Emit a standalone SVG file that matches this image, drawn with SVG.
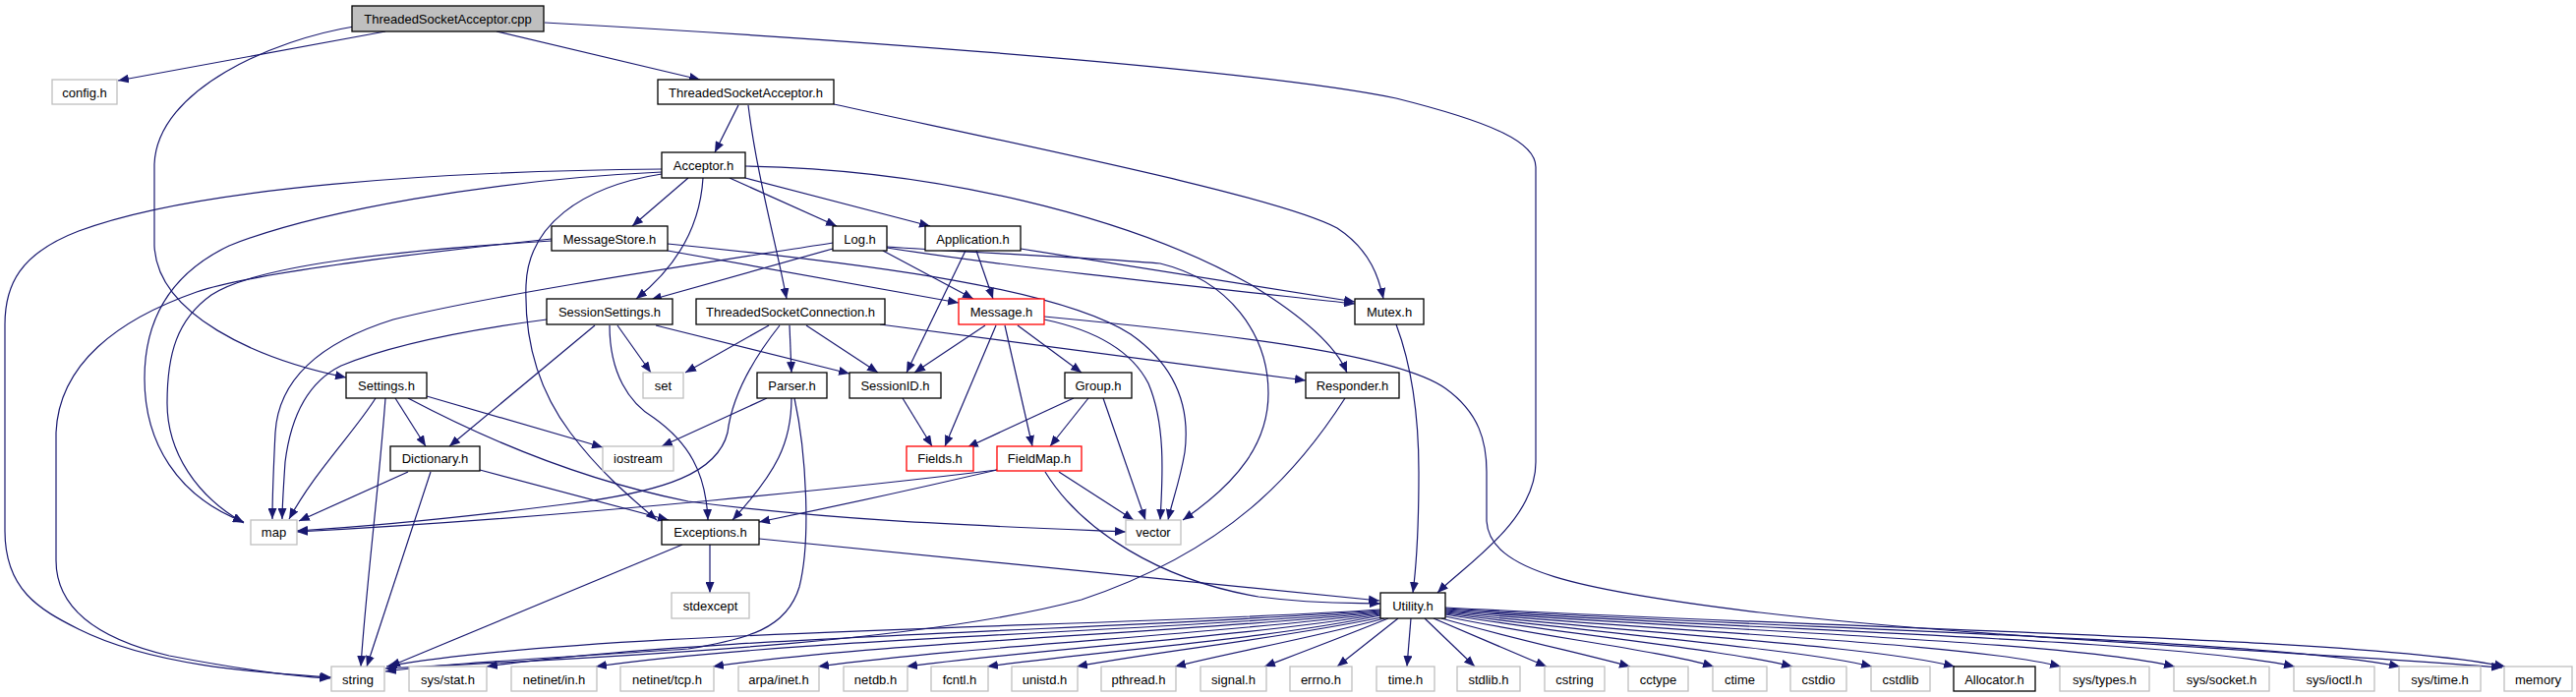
<svg xmlns="http://www.w3.org/2000/svg" width="2620" height="709" viewBox="0 0 2620 709">
<defs>
<marker id="a" markerUnits="userSpaceOnUse" markerWidth="11" markerHeight="9" viewBox="0 0 11 9" refX="11" refY="4.5" orient="auto"><path d="M0,0 L11,4.5 L0,9 z" fill="#191970"/></marker>
<style>
.e{fill:none;stroke:#191970;stroke-width:1.2;marker-end:url(#a)}
.b{fill:#fff;stroke:#000;stroke-width:1.3}
.g{fill:#fff;stroke:#bfbfbf;stroke-width:1.3}
.r{fill:#fff;stroke:#ff0000;stroke-width:1.3}
.m{fill:#bfbfbf;stroke:#000;stroke-width:1.3}
text{font-family:"Liberation Sans",Arial,sans-serif;font-size:13px;text-anchor:middle;fill:#000}
</style>
</defs>
<rect width="2620" height="709" fill="#fff"/>
<g id="connectors">
<path class="e" d="M392,32 L120,82"/>
<path class="e" d="M505,32 L712,81"/>
<path class="e" d="M360,27 C280,40 160,90 157,167 L157,250 C160,320 260,365 352,384"/>
<path class="e" d="M554,23 C950,45 1300,75 1420,100 C1520,125 1562,145 1562,170 L1562,470 C1562,530 1490,575 1462,603"/>
<path class="e" d="M751,107 L727,155"/>
<path class="e" d="M761,107 C770,180 790,250 800,304"/>
<path class="e" d="M848,106 C1050,150 1300,200 1360,232 C1395,255 1403,285 1407,304"/>
<path class="e" d="M700,181 L643,230"/>
<path class="e" d="M742,181 L851,230"/>
<path class="e" d="M758,181 L946,230"/>
<path class="e" d="M715,181 C712,230 690,270 647,304"/>
<path class="e" d="M673,177 C590,190 537,230 535,290 C533,350 550,400 580,440 C610,480 640,505 668,529"/>
<path class="e" d="M673,175 C500,183 320,215 233,250 C170,280 147,330 147,385 C147,450 180,505 248,531"/>
<path class="e" d="M673,172 C450,174 200,190 80,235 C20,258 5,290 5,330 L5,540 C5,600 40,620 80,640 C160,680 280,685 337,689"/>
<path class="e" d="M758,169 C950,172 1150,220 1273,290 C1330,325 1360,355 1370,379"/>
<path class="e" d="M679,255 L975,308"/>
<path class="e" d="M679,248 C900,270 1080,295 1150,340 C1200,375 1210,420 1205,460 C1200,490 1192,510 1188,529"/>
<path class="e" d="M561,245 C400,255 260,270 215,300 C180,325 170,360 170,410 C170,460 200,505 248,532"/>
<path class="e" d="M561,243 C400,260 250,280 200,297 C120,325 60,370 57,440 L57,570 C57,620 100,650 172,667 C240,680 300,688 336,690"/>
<path class="e" d="M847,253 L662,305"/>
<path class="e" d="M898,255 L990,304"/>
<path class="e" d="M847,247 C700,270 500,300 400,325 C320,350 283,390 280,440 C278,480 277,510 277,528"/>
<path class="e" d="M902,252 C1050,275 1250,295 1378,309"/>
<path class="e" d="M902,251 C1000,258 1120,262 1180,268 C1250,285 1290,340 1290,400 C1290,450 1260,490 1203,529"/>
<path class="e" d="M993,255 L1010,304"/>
<path class="e" d="M982,255 L922,379"/>
<path class="e" d="M1038,253 L1378,307"/>
<path class="e" d="M605,331 L457,454"/>
<path class="e" d="M628,331 L662,379"/>
<path class="e" d="M667,331 L864,380"/>
<path class="e" d="M620,331 C620,380 640,410 665,425 C700,450 718,480 720,529"/>
<path class="e" d="M556,325 C480,335 400,350 347,372 C310,390 295,430 290,470 C288,500 287,515 287,528"/>
<path class="e" d="M782,331 L697,379"/>
<path class="e" d="M803,331 L805,379"/>
<path class="e" d="M820,331 L893,379"/>
<path class="e" d="M793,331 C770,360 745,400 740,440 C730,480 680,500 574,513 C480,525 380,535 302,540"/>
<path class="e" d="M895,330 L1328,387"/>
<path class="e" d="M1002,331 L930,379"/>
<path class="e" d="M1013,331 L961,454"/>
<path class="e" d="M1022,331 L1050,454"/>
<path class="e" d="M1035,331 L1100,379"/>
<path class="e" d="M1062,325 C1110,335 1150,355 1168,390 C1185,430 1183,480 1180,529"/>
<path class="e" d="M1062,322 C1250,340 1420,360 1470,395 C1505,420 1512,450 1512,480 L1512,530 C1515,580 1600,600 1790,623 C2000,648 2300,660 2545,679"/>
<path class="e" d="M402,405 L433,454"/>
<path class="e" d="M382,405 C360,440 320,480 294,528"/>
<path class="e" d="M392,405 C385,500 372,600 367,678"/>
<path class="e" d="M434,403 L613,455"/>
<path class="e" d="M415,405 C500,450 600,490 700,510 C850,530 1000,535 1145,541"/>
<path class="e" d="M415,480 L304,530"/>
<path class="e" d="M438,480 L373,678"/>
<path class="e" d="M488,478 L680,529"/>
<path class="e" d="M780,405 L673,454"/>
<path class="e" d="M805,405 C805,450 790,480 745,529"/>
<path class="e" d="M808,405 C820,460 825,550 813,597 C800,640 760,650 700,660 C550,670 450,675 392,683"/>
<path class="e" d="M1092,405 L984,455"/>
<path class="e" d="M1107,405 L1068,454"/>
<path class="e" d="M1122,405 L1165,529"/>
<path class="e" d="M1077,480 L1153,529"/>
<path class="e" d="M1014,478 C900,492 600,525 302,541"/>
<path class="e" d="M1014,478 C920,500 850,515 772,531"/>
<path class="e" d="M1063,480 C1100,540 1180,590 1280,607 C1340,615 1380,613 1404,614"/>
<path class="e" d="M918,405 L948,454"/>
<path class="e" d="M1368,405 C1320,480 1250,560 1100,610 C950,650 700,665 392,680"/>
<path class="e" d="M694,554 L396,678"/>
<path class="e" d="M722,554 L722,603"/>
<path class="e" d="M772,548 L1403,611"/>
<path class="e" d="M1420,330 C1435,370 1443,420 1443,480 C1443,540 1440,580 1437,603"/>
<path class="e" d="M1404,620 C1150,638 600,640 393,678"/>
<path class="e" d="M1404,621 C1150,640 700,648 495,678"/>
<path class="e" d="M1404,622 C1180,642 800,650 606,678"/>
<path class="e" d="M1404,623 C1200,644 900,653 725,678"/>
<path class="e" d="M1404,624 C1230,646 1000,656 832,678"/>
<path class="e" d="M1404,625 C1260,648 1060,660 922,678"/>
<path class="e" d="M1404,626 C1290,650 1120,662 1004,678"/>
<path class="e" d="M1405,628 C1300,650 1180,662 1095,678"/>
<path class="e" d="M1408,629 C1330,650 1250,664 1195,678"/>
<path class="e" d="M1412,629 C1360,650 1320,665 1286,678"/>
<path class="e" d="M1422,629 L1360,678"/>
<path class="e" d="M1435,629 L1431,678"/>
<path class="e" d="M1449,629 L1500,678"/>
<path class="e" d="M1458,629 L1573,678"/>
<path class="e" d="M1466,629 C1540,650 1610,665 1658,678"/>
<path class="e" d="M1470,627 C1570,648 1690,662 1743,678"/>
<path class="e" d="M1470,625 C1600,646 1760,662 1823,678"/>
<path class="e" d="M1470,624 C1630,645 1830,660 1904,678"/>
<path class="e" d="M1470,623 C1660,644 1900,656 1988,678"/>
<path class="e" d="M1470,622 C1700,643 2000,654 2096,678"/>
<path class="e" d="M1470,621 C1750,642 2100,652 2212,678"/>
<path class="e" d="M1470,620 C1800,642 2200,650 2334,678"/>
<path class="e" d="M1470,619 C1850,641 2300,650 2441,678"/>
<path class="e" d="M1470,618 C1900,641 2400,648 2548,678"/>
</g>
<g id="n_cpp"><rect class="m" x="358" y="6" width="195" height="26"/><text x="455.5" y="23.5">ThreadedSocketAcceptor.cpp</text></g>
<g id="n_config"><rect class="g" x="53" y="81" width="66" height="25"/><text x="86" y="98.5">config.h</text></g>
<g id="n_tsah"><rect class="b" x="669" y="81" width="179" height="25"/><text x="758.5" y="98.5">ThreadedSocketAcceptor.h</text></g>
<g id="n_acceptor"><rect class="b" x="673" y="155" width="85" height="26"/><text x="715.5" y="172.5">Acceptor.h</text></g>
<g id="n_messagestore"><rect class="b" x="561" y="230" width="118" height="25"/><text x="620" y="247.5">MessageStore.h</text></g>
<g id="n_log"><rect class="b" x="847" y="230" width="55" height="25"/><text x="874.5" y="247.5">Log.h</text></g>
<g id="n_application"><rect class="b" x="941" y="230" width="97" height="25"/><text x="989.5" y="247.5">Application.h</text></g>
<g id="n_sessionsettings"><rect class="b" x="556" y="304" width="128" height="26"/><text x="620" y="321.5">SessionSettings.h</text></g>
<g id="n_tsc"><rect class="b" x="708" y="304" width="192" height="26"/><text x="804" y="321.5">ThreadedSocketConnection.h</text></g>
<g id="n_message"><rect class="r" x="975" y="304" width="87" height="26"/><text x="1018.5" y="321.5">Message.h</text></g>
<g id="n_mutex"><rect class="b" x="1378" y="304" width="70" height="26"/><text x="1413" y="321.5">Mutex.h</text></g>
<g id="n_settings"><rect class="b" x="352" y="379" width="82" height="26"/><text x="393" y="396.5">Settings.h</text></g>
<g id="n_set"><rect class="g" x="654" y="379" width="41" height="26"/><text x="674.5" y="396.5">set</text></g>
<g id="n_parser"><rect class="b" x="770" y="379" width="71" height="26"/><text x="805.5" y="396.5">Parser.h</text></g>
<g id="n_sessionid"><rect class="b" x="864" y="379" width="93" height="26"/><text x="910.5" y="396.5">SessionID.h</text></g>
<g id="n_group"><rect class="b" x="1083" y="379" width="68" height="26"/><text x="1117" y="396.5">Group.h</text></g>
<g id="n_responder"><rect class="b" x="1328" y="379" width="95" height="26"/><text x="1375.5" y="396.5">Responder.h</text></g>
<g id="n_dictionary"><rect class="b" x="397" y="454" width="91" height="25"/><text x="442.5" y="471">Dictionary.h</text></g>
<g id="n_iostream"><rect class="g" x="613" y="454" width="72" height="25"/><text x="649" y="471">iostream</text></g>
<g id="n_fields"><rect class="r" x="922" y="454" width="68" height="25"/><text x="956" y="471">Fields.h</text></g>
<g id="n_fieldmap"><rect class="r" x="1014" y="454" width="86" height="25"/><text x="1057" y="471">FieldMap.h</text></g>
<g id="n_map"><rect class="g" x="255" y="529" width="47" height="25"/><text x="278.5" y="546">map</text></g>
<g id="n_exceptions"><rect class="b" x="673" y="529" width="99" height="25"/><text x="722.5" y="546">Exceptions.h</text></g>
<g id="n_vector"><rect class="g" x="1145" y="529" width="56" height="25"/><text x="1173" y="546">vector</text></g>
<g id="n_stdexcept"><rect class="g" x="683" y="603" width="79" height="26"/><text x="722.5" y="620.5">stdexcept</text></g>
<g id="n_utility"><rect class="b" x="1404" y="603" width="66" height="26"/><text x="1437" y="620.5">Utility.h</text></g>
<g id="n_string"><rect class="g" x="337" y="678" width="54" height="25"/><text x="364" y="695.5">string</text></g>
<g id="n_sysstat"><rect class="g" x="416" y="678" width="79" height="25"/><text x="455.5" y="695.5">sys/stat.h</text></g>
<g id="n_netinetin"><rect class="g" x="520" y="678" width="87" height="25"/><text x="563.5" y="695.5">netinet/in.h</text></g>
<g id="n_netinettcp"><rect class="g" x="631" y="678" width="95" height="25"/><text x="678.5" y="695.5">netinet/tcp.h</text></g>
<g id="n_arpainet"><rect class="g" x="751" y="678" width="82" height="25"/><text x="792" y="695.5">arpa/inet.h</text></g>
<g id="n_netdb"><rect class="g" x="858" y="678" width="65" height="25"/><text x="890.5" y="695.5">netdb.h</text></g>
<g id="n_fcntl"><rect class="g" x="947" y="678" width="58" height="25"/><text x="976" y="695.5">fcntl.h</text></g>
<g id="n_unistd"><rect class="g" x="1029" y="678" width="67" height="25"/><text x="1062.5" y="695.5">unistd.h</text></g>
<g id="n_pthread"><rect class="g" x="1120" y="678" width="76" height="25"/><text x="1158" y="695.5">pthread.h</text></g>
<g id="n_signal"><rect class="g" x="1221" y="678" width="67" height="25"/><text x="1254.5" y="695.5">signal.h</text></g>
<g id="n_errno"><rect class="g" x="1312" y="678" width="63" height="25"/><text x="1343.5" y="695.5">errno.h</text></g>
<g id="n_time"><rect class="g" x="1400" y="678" width="59" height="25"/><text x="1429.5" y="695.5">time.h</text></g>
<g id="n_stdlib"><rect class="g" x="1482" y="678" width="64" height="25"/><text x="1514" y="695.5">stdlib.h</text></g>
<g id="n_cstring"><rect class="g" x="1571" y="678" width="61" height="25"/><text x="1601.5" y="695.5">cstring</text></g>
<g id="n_cctype"><rect class="g" x="1656" y="678" width="61" height="25"/><text x="1686.5" y="695.5">cctype</text></g>
<g id="n_ctime"><rect class="g" x="1742" y="678" width="55" height="25"/><text x="1769.5" y="695.5">ctime</text></g>
<g id="n_cstdio"><rect class="g" x="1821" y="678" width="57" height="25"/><text x="1849.5" y="695.5">cstdio</text></g>
<g id="n_cstdlib"><rect class="g" x="1903" y="678" width="60" height="25"/><text x="1933" y="695.5">cstdlib</text></g>
<g id="n_allocator"><rect class="b" x="1987" y="678" width="83" height="25"/><text x="2028.5" y="695.5">Allocator.h</text></g>
<g id="n_systypes"><rect class="g" x="2095" y="678" width="91" height="25"/><text x="2140.5" y="695.5">sys/types.h</text></g>
<g id="n_syssocket"><rect class="g" x="2211" y="678" width="97" height="25"/><text x="2259.5" y="695.5">sys/socket.h</text></g>
<g id="n_sysioctl"><rect class="g" x="2333" y="678" width="82" height="25"/><text x="2374" y="695.5">sys/ioctl.h</text></g>
<g id="n_systime"><rect class="g" x="2440" y="678" width="83" height="25"/><text x="2481.5" y="695.5">sys/time.h</text></g>
<g id="n_memory"><rect class="g" x="2547" y="678" width="69" height="25"/><text x="2581.5" y="695.5">memory</text></g>
</svg>
